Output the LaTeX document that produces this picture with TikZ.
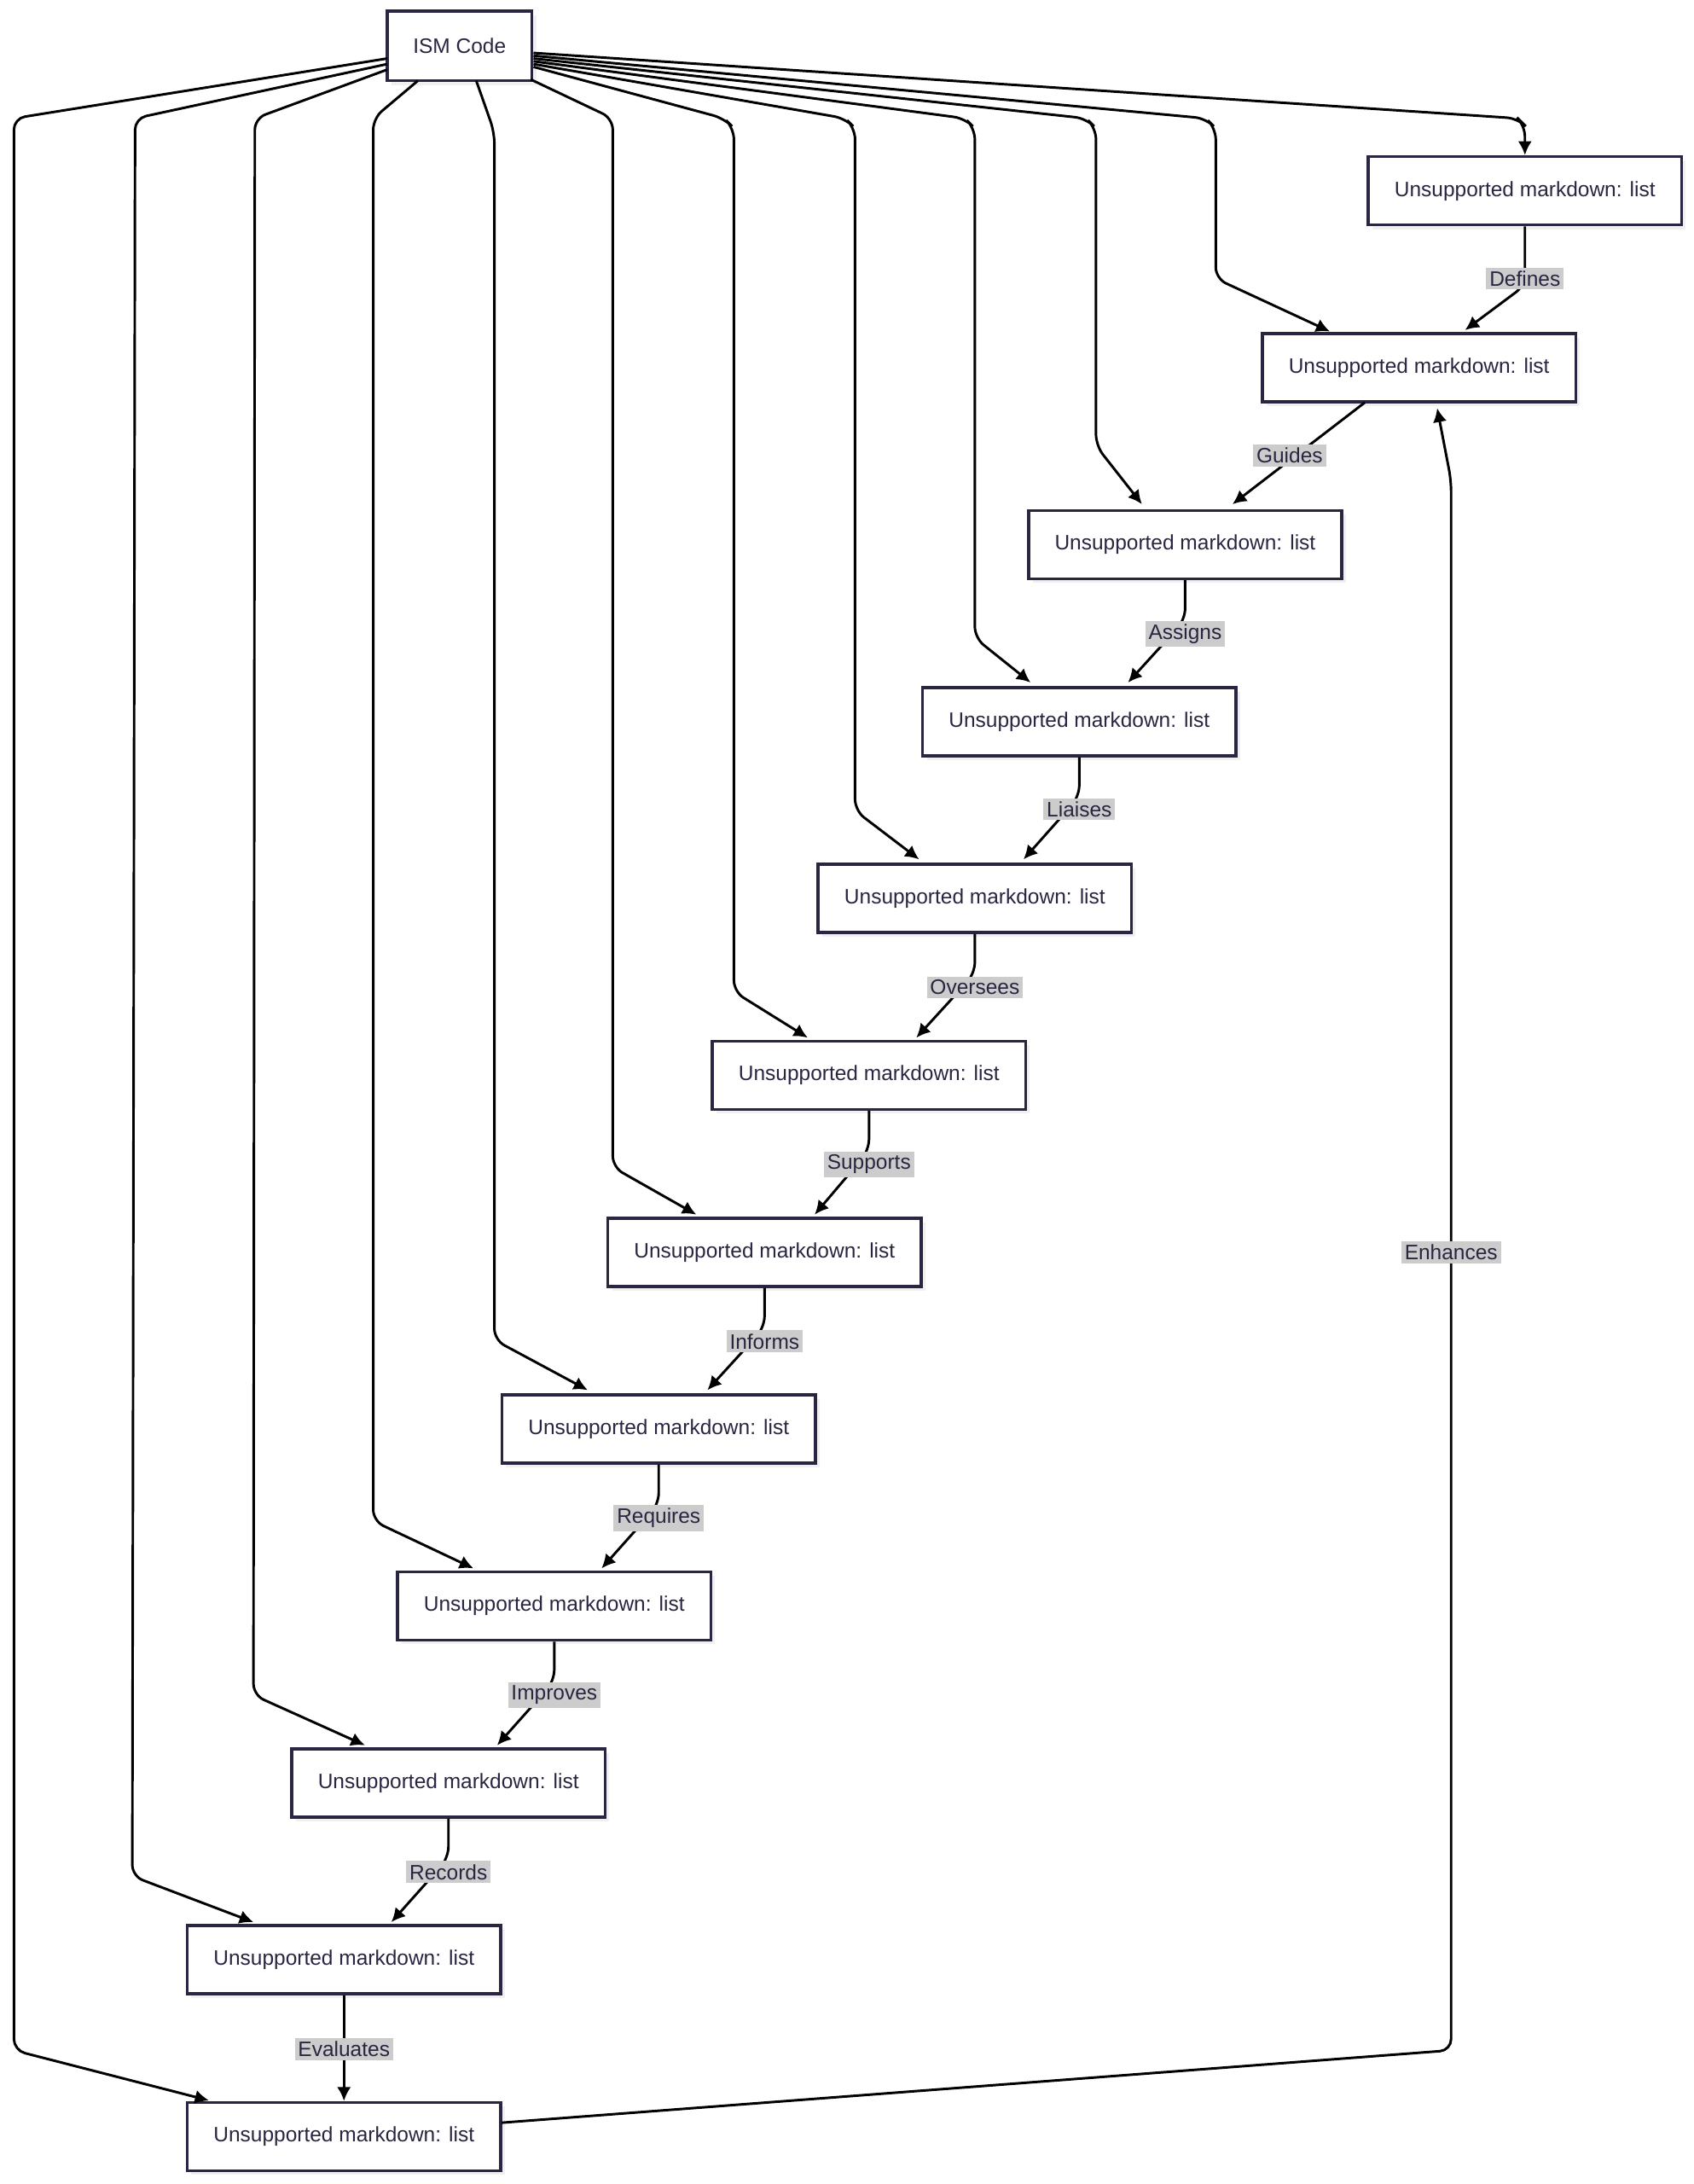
\documentclass[tikz,border=0pt]{standalone}
\usepackage{fontspec}
\setmainfont{Liberation Sans}
\usetikzlibrary{arrows.meta,shadows}
\definecolor{boxline}{HTML}{2A2540}
\definecolor{lblbg}{HTML}{CCCCCC}
\tikzset{
  listbox/.style={draw=boxline, line width=1.1pt, fill=white, minimum width=112.5pt,
    minimum height=24.5pt, inner sep=0pt, font=\fontsize{7.5}{9}\selectfont, text=boxline,
    drop shadow={opacity=0.12, shadow xshift=1.5pt, shadow yshift=-1.5pt}},
  lbl/.style={fill=lblbg, inner sep=1.2pt, font=\fontsize{7.5}{9}\selectfont, text=boxline},
  link/.style={draw=black, line width=0.9pt, rounded corners=4pt, -{Latex[length=5pt,width=5pt]}}
}
\begin{document}
\begin{tikzpicture}[x=0.5pt,y=-0.5pt]
    \useasboundingbox (0,0) rectangle (1216,1568);
    % boxes
    \node [listbox, minimum width=52pt, minimum height=25pt] (ism) at (330,33) {ISM Code};
    \node [listbox] (n1) at (1095,137) {Unsupported markdown: list};
    \node [listbox] (n2) at (1019,264) {Unsupported markdown: list};
    \node [listbox] (n3) at (851,391) {Unsupported markdown: list};
    \node [listbox] (n4) at (775,518) {Unsupported markdown: list};
    \node [listbox] (n5) at (700,645) {Unsupported markdown: list};
    \node [listbox] (n6) at (624,772) {Unsupported markdown: list};
    \node [listbox] (n7) at (549,899) {Unsupported markdown: list};
    \node [listbox] (n8) at (473,1026) {Unsupported markdown: list};
    \node [listbox] (n9) at (398,1153) {Unsupported markdown: list};
    \node [listbox] (n10) at (322,1280) {Unsupported markdown: list};
    \node [listbox] (n11) at (247,1407) {Unsupported markdown: list};
    \node [listbox] (n12) at (247,1534) {Unsupported markdown: list};
    % from the code to each box
    \draw [link] (ism.east) ++(0,5) -- (1090,85) -- (1095,90) -- (n1.north);
    \draw [link] (ism.east) ++(0,7) -- (866,85) -- (873,92) -- (873,200) -- (955,238);
    \draw [link] (ism.east) ++(0,9) -- (780,85) -- (787,92) -- (787,320) -- (820,362);
    \draw [link] (ism.east) ++(0,11) -- (693,85) -- (700,92) -- (700,458) -- (740,490);
    \draw [link] (ism.east) ++(0,13) -- (607,85) -- (614,92) -- (614,582) -- (660,617);
    \draw [link] (ism.east) ++(0,15) -- (520,85) -- (527,92) -- (527,712) -- (580,745);
    \draw [link] (381,57) -- (440,85) -- (440,838) -- (500,872);
    \draw [link] (342,58) -- (355,95) -- (355,962) -- (422,998);
    \draw [link] (300,58) -- (268,85) -- (268,1092) -- (340,1126);
    \draw [link] (278,50) -- (183,85) -- (182,1217) -- (262,1253);
    \draw [link] (278,46) -- (97,85) -- (95,1347) -- (182,1380);
    \draw [link] (278,42) -- (10,85) -- (10,1472) -- (150,1508);
    % chain
    \draw [link] (n1.south) -- (1095,205) -- (1052,237);
    \draw [link] (980,289) -- (885,362);
    \draw [link] (n3.south) -- (851,445) -- (810,490);
    \draw [link] (n4.south) -- (775,572) -- (735,617);
    \draw [link] (n5.south) -- (700,699) -- (658,745);
    \draw [link] (n6.south) -- (624,826) -- (585,872);
    \draw [link] (n7.south) -- (549,953) -- (508,998);
    \draw [link] (n8.south) -- (473,1080) -- (432,1126);
    \draw [link] (n9.south) -- (398,1207) -- (357,1253);
    \draw [link] (n10.south) -- (322,1334) -- (281,1380);
    \draw [link] (n11.south) -- (n12.north);
    \draw [link] (360,1524) -- (1042,1472) -- (1042,345) -- (1032,293);
    % labels
    \node [lbl] (l1) at (1095,200) {Defines};
    \node [lbl] (l2) at (926,327) {Guides};
    \node [lbl] (l3) at (851,455) {Assigns};
    \node [lbl] (l4) at (775,581) {Liaises};
    \node [lbl] (l5) at (700,709) {Oversees};
    \node [lbl] (l6) at (624,836) {Supports};
    \node [lbl] (l7) at (549,963) {Informs};
    \node [lbl] (l8) at (473,1090) {Requires};
    \node [lbl] (l9) at (398,1217) {Improves};
    \node [lbl] (l10) at (322,1344) {Records};
    \node [lbl] (l11) at (247,1471) {Evaluates};
    \node [lbl] (l12) at (1042,899) {Enhances};
\end{tikzpicture}
\end{document}
